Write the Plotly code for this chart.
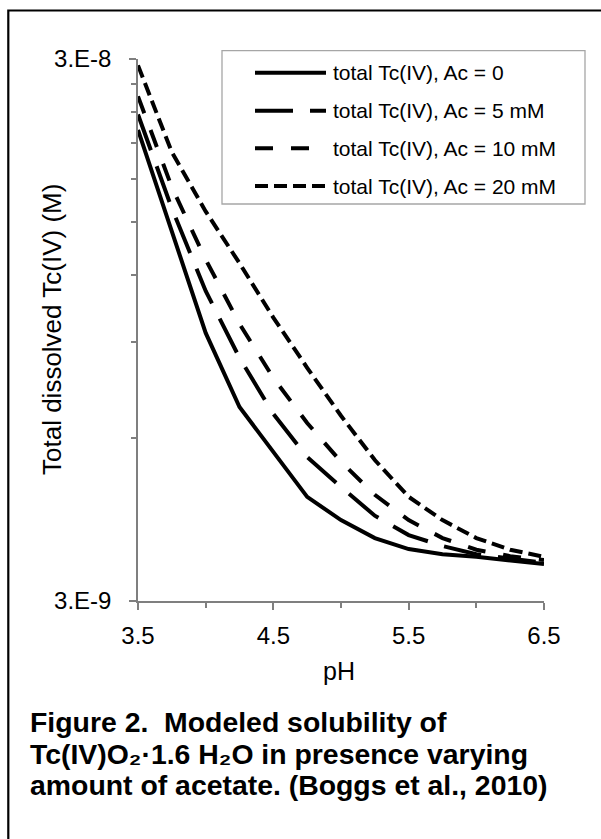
import math
import plotly.graph_objects as go

# ---------------- data ----------------
pH = [3.5, 3.75, 4.0, 4.25, 4.5, 4.75, 5.0, 5.25, 5.5, 5.75, 6.0, 6.25, 6.5]
# total dissolved Tc(IV), in nM
tc_ac0 = [22.2, 14.4, 9.37, 6.84, 5.65, 4.67, 4.23, 3.92, 3.74, 3.66, 3.62, 3.56, 3.51]
tc_ac5 = [23.7, 15.9, 11.2, 8.43, 6.64, 5.53, 4.87, 4.31, 3.97, 3.79, 3.66, 3.59, 3.53]
tc_ac10 = [25.6, 17.4, 12.8, 9.74, 7.74, 6.39, 5.42, 4.71, 4.23, 3.92, 3.73, 3.63, 3.57]
tc_ac20 = [29.2, 20.2, 15.7, 12.6, 10.0, 8.08, 6.59, 5.46, 4.67, 4.23, 3.92, 3.73, 3.62]

series_names = ["total Tc(IV), Ac = 0", "total Tc(IV), Ac = 5 mM",
                "total Tc(IV), Ac = 10 mM", "total Tc(IV), Ac = 20 mM"]
series_values = [tc_ac0, tc_ac5, tc_ac10, tc_ac20]
series_dash = ["solid", "38px,17px", "18px,18px", "13px,6px"]

x_tickvals = [3.5, 4.5, 5.5, 6.5]
x_ticktext = ["3.5", "4.5", "5.5", "6.5"]
x_minor = [4.0, 5.0, 6.0]
y_tickvals = [3e-9, 3e-8]
y_ticktext = ["3.E-9", "3.E-8"]
y_minor = [6e-9, 9e-9, 12e-9, 15e-9, 18e-9, 21e-9, 24e-9, 27e-9]

x_title = "pH"
y_title = "Total dissolved Tc(IV) (M)"
caption = ["<b>Figure 2.\u00a0 Modeled solubility of</b>",
           "<b>Tc(IV)O\u2082\u00b71.6 H\u2082O in presence varying</b>",
           "<b>amount of acetate. (Boggs et al., 2010)</b>"]

# ---------------- layout geometry ----------------
W, H = 601, 839
L, R, T, B = 138, 57, 59, 238
PW, PH = W - L - R, H - T - B
FONT = "Liberation Sans, Arial, Helvetica, sans-serif"
AX = "#7f7f7f"


def px(xp):
    return (xp - L) / PW


def py(yp):
    return (H - B - yp) / PH


fig = go.Figure()
for name, vals, dash in zip(series_names, series_values, series_dash):
    fig.add_trace(go.Scatter(
        x=pH, y=[v * 1e-9 for v in vals], mode="lines", name=name,
        line=dict(color="black", width=4, dash=dash), showlegend=False))

yrange = [math.log10(3e-9), math.log10(3e-8)]

fig.update_layout(
    width=W, height=H,
    margin=dict(l=L, r=R, t=T, b=B, pad=0),
    paper_bgcolor="white", plot_bgcolor="white",
    font=dict(family=FONT, color="black"),
    showlegend=False,
    xaxis=dict(range=[3.5, 6.5], tickmode="array", tickvals=x_tickvals, ticktext=x_ticktext,
               ticks="outside", ticklen=7, tickwidth=1.5, tickcolor=AX,
               showline=True, linecolor=AX, linewidth=1.5, showgrid=False, zeroline=False,
               tickfont=dict(size=24, family=FONT, color="black"), ticklabelstandoff=5,
               minor=dict(tickmode="array", tickvals=x_minor, ticks="outside", ticklen=5,
                          tickwidth=1.5, tickcolor=AX, showgrid=False)),
    yaxis=dict(type="log", range=yrange, tickmode="array", tickvals=y_tickvals, ticktext=y_ticktext,
               ticks="outside", ticklen=7, tickwidth=1.5, tickcolor=AX,
               showline=True, linecolor=AX, linewidth=1.5, showgrid=False, zeroline=False,
               tickfont=dict(size=24, family=FONT, color="black"), ticklabelstandoff=13,
               minor=dict(tickmode="array", tickvals=y_minor, ticks="outside", ticklen=5,
                          tickwidth=1.5, tickcolor=AX, showgrid=False)),
    xaxis2=dict(overlaying="x", anchor="y", range=[3.5, 6.5], tickmode="array", tickvals=x_tickvals,
                ticks="inside", ticklen=7, tickwidth=1.5, tickcolor=AX, showticklabels=False,
                showline=False, showgrid=False, zeroline=False, side="bottom"),
    yaxis2=dict(overlaying="y", anchor="x", type="log", range=yrange, tickmode="array",
                tickvals=y_tickvals, ticks="inside", ticklen=8, tickwidth=1.5, tickcolor=AX,
                showticklabels=False, showline=False, showgrid=False, zeroline=False, side="left"),
)

shapes = []
# outer frame (left and top edges visible)
shapes.append(dict(type="rect", xref="paper", yref="paper",
                   x0=px(8.3), x1=px(700), y0=py(10.5), y1=py(950),
                   line=dict(color="black", width=2.2), fillcolor="rgba(0,0,0,0)", layer="above"))
# legend box
leg_rows = [72.7, 110.7, 148.3, 186.0]
shapes.append(dict(type="rect", xref="paper", yref="paper",
                   x0=px(222), x1=px(585), y0=py(50.7), y1=py(204),
                   line=dict(color="#a6a6a6", width=1.3), fillcolor="white", layer="above"))
for row, dash in zip(leg_rows, series_dash):
    shapes.append(dict(type="line", xref="paper", yref="paper",
                       x0=px(255), x1=px(326), y0=py(row), y1=py(row),
                       line=dict(color="black", width=4, dash=dash), layer="above"))

annotations = []
for row, name in zip(leg_rows, series_names):
    annotations.append(dict(text=name, xref="paper", yref="paper", x=px(331), y=py(row),
                            xanchor="left", yanchor="middle", showarrow=False,
                            font=dict(size=21, family=FONT, color="black")))
annotations.append(dict(text=y_title, xref="paper", yref="paper", x=px(52), y=py(330),
                        xanchor="center", yanchor="middle", textangle=-90, showarrow=False,
                        font=dict(size=26, family=FONT, color="black")))
annotations.append(dict(text=x_title, xref="paper", yref="paper", x=px(339), y=py(671),
                        xanchor="center", yanchor="middle", showarrow=False,
                        font=dict(size=25, family=FONT, color="black")))
for line, yc in zip(caption, [722, 754, 785]):
    annotations.append(dict(text=line, xref="paper", yref="paper", x=px(28), y=py(yc),
                            xanchor="left", yanchor="middle", showarrow=False,
                            font=dict(size=28.4, family=FONT, color="black")))

fig.update_layout(shapes=shapes, annotations=annotations)
fig.write_html("out.html", config={"displayModeBar": False},
               post_script="document.body.style.margin='0px';document.body.style.padding='0px';")
